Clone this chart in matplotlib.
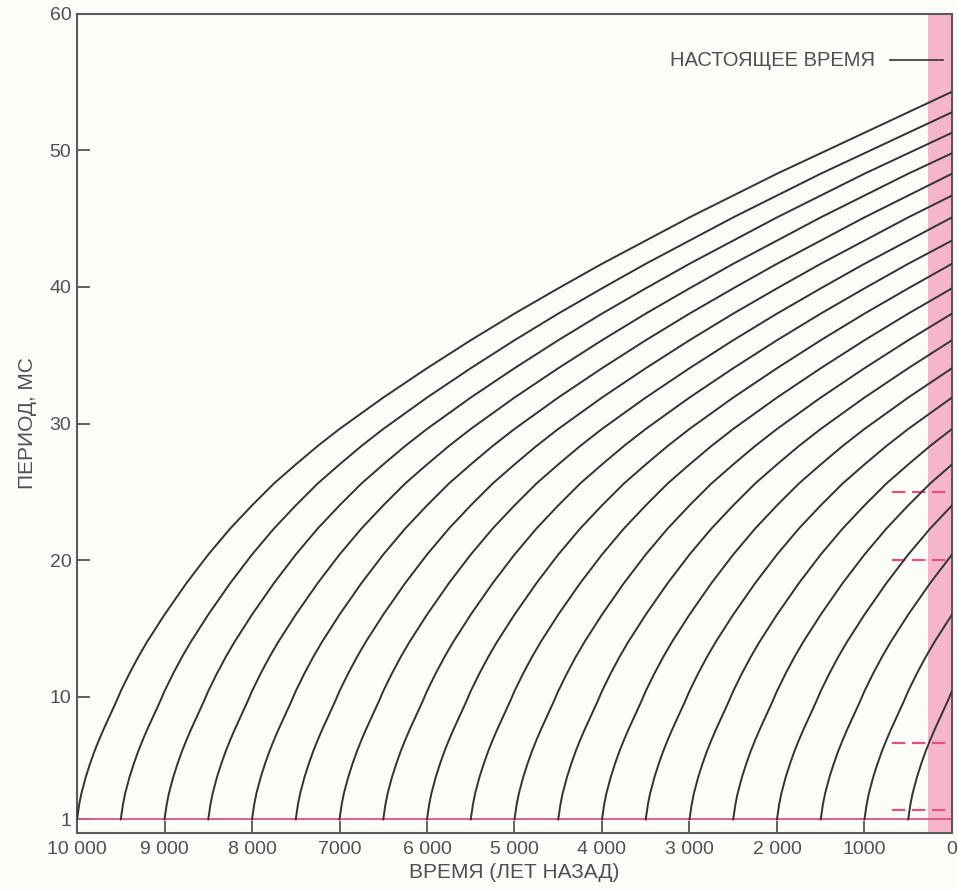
import matplotlib
matplotlib.use('Agg')
import matplotlib.pyplot as plt
import numpy as np

plt.rcParams['font.family'] = ['Liberation Sans', 'DejaVu Sans']

# период пульсара в зависимости от возраста (лет после рождения), мс
vozrast = [0, 25, 50, 100, 150, 200, 250, 300, 350, 400, 450, 500,
           600, 700, 800, 900, 1000, 1250, 1500, 1750, 2000, 2250, 2500,
           2750, 3000, 3500, 4000, 4500, 5000, 5500, 6000, 6500, 7000,
           7500, 8000, 8500, 9000, 9500, 10000]
period = [1.0, 2.1, 2.9, 4.1, 5.1, 6.0, 6.8, 7.55, 8.25, 8.95, 9.65, 10.4,
          11.7, 12.9, 14.0, 15.0, 16.0, 18.3, 20.4, 22.3, 24.0, 25.6, 27.0,
          28.35, 29.6, 31.9, 34.05, 36.1, 38.05, 39.9, 41.7, 43.4, 45.1,
          46.7, 48.3, 49.8, 51.3, 52.8, 54.3]

# моменты рождения (лет назад)
rozhdenie = [10000, 9500, 9000, 8500, 8000, 7500, 7000, 6500, 6000, 5500,
             5000, 4500, 4000, 3500, 3000, 2500, 2000, 1500, 1000, 500]

# штриховые отметки у правого края, мс
shtrihi = [25.0, 20.0, 6.6, 1.7]
shtrih_ot = 680

x_ticks = [10000, 9000, 8000, 7000, 6000, 5000, 4000, 3000, 2000, 1000, 0]
x_labels = ['10 000', '9 000', '8 000', '7000', '6 000', '5 000', '4 000',
            '3 000', '2 000', '1000', '0']
y_ticks = [1, 10, 20, 30, 40, 50, 60]

fon = '#fcfcf8'
tekst = '#505050'
rozovyi = '#f6b6c9'
krasnyi = '#de5382'

fig = plt.figure(figsize=(9.58, 8.90), dpi=100, facecolor=fon)
ax = fig.add_axes([0.0804, 0.064, 0.9133, 0.9203], facecolor=fon)

# настоящее время - розовая полоса
ax.axvspan(270, 0, color=rozovyi, lw=0, zorder=1)

vozrast = np.array(vozrast)
period = np.array(period)
for b in rozhdenie:
    m = vozrast <= b
    ax.plot(b - vozrast[m], period[m], color='#333333', lw=1.4, zorder=3,
            solid_joinstyle='round')

ax.plot([10000, 0], [1.0, 1.0], color=krasnyi, lw=1.3, zorder=2)
for p in shtrihi:
    ax.plot([shtrih_ot, 0], [p, p], color=krasnyi, lw=1.6, zorder=2,
            dashes=(6, 3))

ax.text(880, 56.6, 'НАСТОЯЩЕЕ ВРЕМЯ', ha='right', va='center',
        fontsize=14.5, color=tekst)
ax.plot([710, 100], [56.6, 56.6], color='#333333', lw=1.2, zorder=3)

ax.set_xlim(10000, 0)
ax.set_ylim(0, 60)
ax.set_xticks(x_ticks)
ax.set_xticklabels(x_labels)
ax.set_yticks(y_ticks)
ax.tick_params(direction='in', length=9, width=1.3, colors='#555555',
               labelcolor=tekst, labelsize=14, pad=4)
ax.tick_params(axis='x', pad=6)
for s in ax.spines.values():
    s.set_color('#5a5a5a')
    s.set_linewidth(1.5)

ax.set_xlabel('ВРЕМЯ (ЛЕТ НАЗАД)', fontsize=15, color=tekst, labelpad=3)
ax.set_ylabel('ПЕРИОД, МС', fontsize=15, color=tekst, labelpad=9)

fig.savefig('out.png', dpi=100, facecolor=fon)
